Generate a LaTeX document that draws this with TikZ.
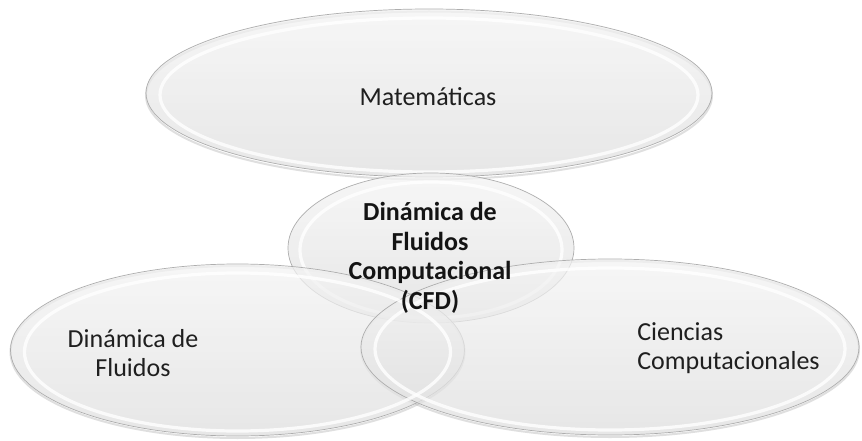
\documentclass[tikz,border=0pt]{standalone}
\usepackage{fontspec}
\setmainfont{Carlito}
\usetikzlibrary{shapes.geometric}
\tikzset{
  bubble/.style={ellipse, inner sep=0pt, draw=gray!70, line width=0.7pt,
    top color=gray!9, bottom color=gray!26, fill opacity=0.72, draw opacity=0.9},
  shine/.style={ellipse, inner sep=0pt, draw=white, line width=3.2pt, draw opacity=0.8},
  shadowring/.style={ellipse, inner sep=0pt, draw=gray!55, line width=2pt, draw opacity=0.45},
  lbl/.style={font=\fontsize{26}{29}\selectfont, text=black!88, align=center, inner sep=0pt},
  blbl/.style={font=\bfseries\fontsize{26}{29.6}\selectfont, text=black!92, align=center, inner sep=0pt}
}
\begin{document}
\begin{tikzpicture}[x=1pt,y=-1pt]
\useasboundingbox[fill=white] (0,0) rectangle (862,441);
% shadows
\node[shadowring, minimum width=566pt, minimum height=168pt] (matsh) at (429,95.5) {};
\node[shadowring, minimum width=454pt, minimum height=172pt] (dfsh) at (237.5,352) {};
\node[shadowring, minimum width=498pt, minimum height=176pt] (ccsh) at (610,349) {};
% top ellipse
\node[bubble, minimum width=566pt, minimum height=168pt] (mat) at (429,93) {};
\node[shine, minimum width=538pt, minimum height=154pt] (matsn) at (429,95) {};
% centre ellipse
\node[bubble, minimum width=286pt, minimum height=150pt] (cfd) at (431,248) {};
\node[shine, minimum width=262pt, minimum height=136pt] (cfdsn) at (431,250) {};
% left and right ellipses
\node[bubble, minimum width=454pt, minimum height=172pt] (df) at (237.5,350) {};
\node[bubble, minimum width=498pt, minimum height=176pt] (cc) at (610,347) {};
\node[shine, minimum width=426pt, minimum height=158pt] (dfsn) at (237.5,352) {};
\node[shine, minimum width=470pt, minimum height=162pt] (ccsn) at (610,349) {};
% labels
\node[lbl] (tmat) at (428,97) {Matemáticas};
\node[blbl] (tcfd) at (430,258) {Dinámica de\\Fluidos\\Computacional\\(CFD)};
\node[lbl] (tdf) at (133,353) {Dinámica de\\Fluidos};
\node[lbl, align=left] (tcc) at (728.5,348) {Ciencias\\Computacionales};
\end{tikzpicture}
\end{document}
